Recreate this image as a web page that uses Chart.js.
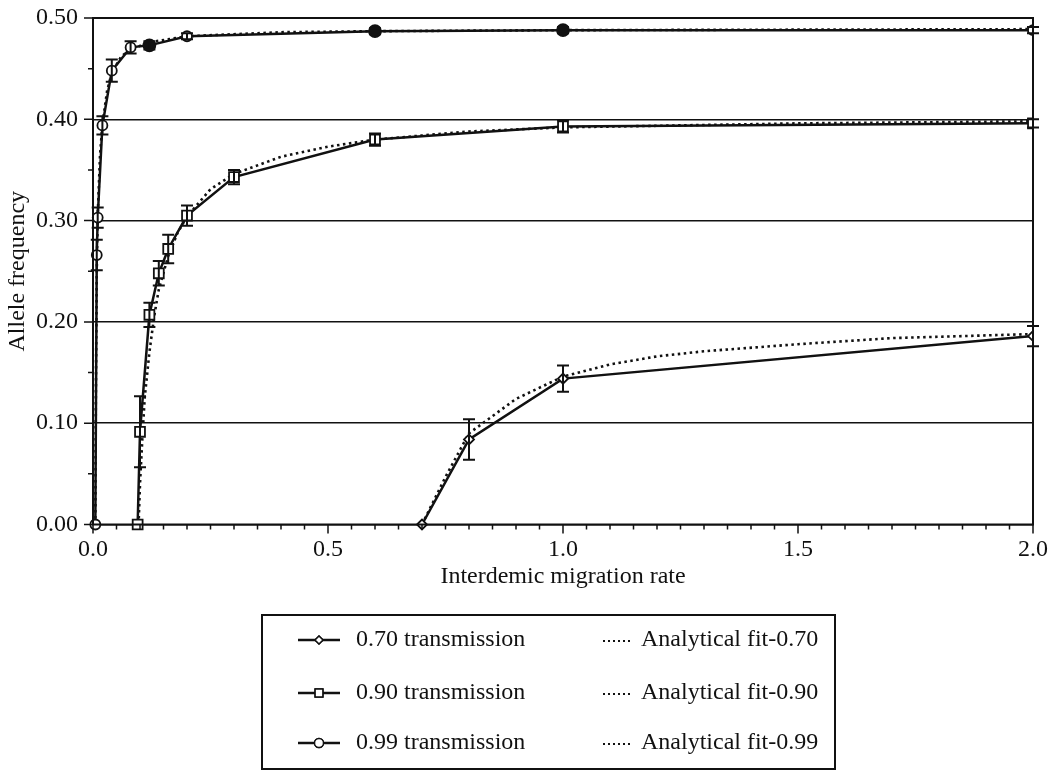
<!DOCTYPE html>
<html lang="en">
<head>
  <meta charset="UTF-8">
  <title>Allele frequency vs interdemic migration rate</title>
  <script src="https://cdn.jsdelivr.net/npm/chart.js"></script>
  <style>
    * {
      margin: 0;
      padding: 0;
      box-sizing: border-box;
    }

    body {
      background-color: #fff;
      width: 1049px;
      height: 771px;
      overflow: hidden;
    }

    .chart-container {
      position: relative;
      width: 1049px;
      height: 771px;
    }
  </style>
</head>
<body>
  <div class="chart-container">
    <canvas id="freqChart"></canvas>
  </div>

  <script>
    // simulated data (markers + error bars)
    const xRate70 = [0.7, 0.8, 1.0, 2.0];
    const freq70 = [0.0, 0.084, 0.144, 0.186];
    const err70 = [0, 0.02, 0.013, 0.01];

    const xRate90 = [0.095, 0.1, 0.12, 0.14, 0.16, 0.2, 0.3, 0.6, 1.0, 2.0];
    const freq90 = [0.0, 0.0915, 0.207, 0.248, 0.272, 0.305, 0.343, 0.380, 0.393, 0.396];
    const err90 = [0, 0.035, 0.012, 0.012, 0.014, 0.01, 0.007, 0.006, 0.006, 0.004];

    const xRate99 = [0.005, 0.008, 0.01, 0.02, 0.04, 0.08, 0.12, 0.2, 0.6, 1.0, 2.0];
    const freq99 = [0.0, 0.266, 0.303, 0.394, 0.448, 0.471, 0.473, 0.482, 0.487, 0.488, 0.488];
    const err99 = [0, 0.015, 0.01, 0.009, 0.011, 0.006, 0.004, 0.003, 0.003, 0.003, 0.003];
    const solidMarks99 = [0.12, 0.6, 1.0];

    // analytical fits
    const fitX70 = [0.7, 0.75, 0.8, 0.9, 1.0, 1.1, 1.2, 1.3, 1.5, 1.7, 2.0];
    const fitY70 = [0.0, 0.047, 0.09, 0.124, 0.146, 0.158, 0.166, 0.171, 0.178, 0.184, 0.188];

    const fitX90 = [0.097, 0.1, 0.105, 0.11, 0.12, 0.13, 0.14, 0.16, 0.18, 0.2, 0.25, 0.3, 0.4, 0.5, 0.6, 0.8, 1.0, 1.5, 2.0];
    const fitY90 = [0.0, 0.04, 0.085, 0.125, 0.17, 0.205, 0.232, 0.265, 0.288, 0.304, 0.331, 0.346, 0.363, 0.373, 0.380, 0.388, 0.392, 0.396, 0.398];

    const fitX99 = [0.005, 0.006, 0.008, 0.01, 0.015, 0.02, 0.03, 0.04, 0.06, 0.08, 0.12, 0.2, 0.4, 0.6, 1.0, 2.0];
    const fitY99 = [0.0, 0.12, 0.25, 0.305, 0.365, 0.395, 0.428, 0.446, 0.462, 0.469, 0.476, 0.482, 0.486, 0.487, 0.488, 0.489];

    const seriesLabels = ['0.70 transmission', '0.90 transmission', '0.99 transmission'];
    const fitLabels = ['Analytical fit-0.70', 'Analytical fit-0.90', 'Analytical fit-0.99'];

    const FONT = '"Liberation Serif", "DejaVu Serif", serif';
    const INK = '#111';

    const toPoints = (xs, ys) => xs.map((x, i) => ({ x: x, y: ys[i] }));

    const dataSet = (label, xs, ys, errs, style, radius) => ({
      label: label,
      data: toPoints(xs, ys),
      errors: errs,
      borderColor: INK,
      borderWidth: 2.5,
      pointStyle: style,
      pointRadius: radius,
      pointBorderWidth: 1.8,
      pointBorderColor: INK,
      pointBackgroundColor: '#fff',
      tension: 0,
      clip: { left: 10, top: 10, right: 0, bottom: 10 },
      order: 0
    });

    const fitSet = (label, xs, ys) => ({
      label: label,
      data: toPoints(xs, ys),
      borderColor: INK,
      borderWidth: 2.6,
      borderDash: [2.5, 3.5],
      borderCapStyle: 'butt',
      pointRadius: 0,
      tension: 0,
      clip: { left: 10, top: 10, right: 0, bottom: 10 },
      order: 1
    });

    const set99 = dataSet(seriesLabels[2], xRate99, freq99, err99, 'circle', 5);
    set99.pointBackgroundColor = xRate99.map(x => solidMarks99.includes(x) ? INK : '#fff');
    set99.pointRadius = xRate99.map(x => solidMarks99.includes(x) ? 6 : 5);

    // error bars, drawn over the markers
    const errorBars = {
      id: 'errorBars',
      afterDatasetsDraw(chart) {
        const { ctx, scales: { x, y } } = chart;
        ctx.save();
        ctx.strokeStyle = INK;
        ctx.lineWidth = 2;
        chart.data.datasets.forEach(ds => {
          if (!ds.errors) return;
          ds.data.forEach((p, i) => {
            const e = ds.errors[i];
            if (!e) return;
            const px = x.getPixelForValue(p.x);
            const top = y.getPixelForValue(p.y + e);
            const bot = y.getPixelForValue(p.y - e);
            ctx.beginPath();
            ctx.moveTo(px, top); ctx.lineTo(px, bot);
            ctx.moveTo(px - 6, top); ctx.lineTo(px + 6, top);
            ctx.moveTo(px - 6, bot); ctx.lineTo(px + 6, bot);
            ctx.stroke();
          });
        });
        ctx.restore();
      }
    };

    // frame, major and minor tick marks
    const frameTicks = {
      id: 'frameTicks',
      afterDraw(chart) {
        const { ctx, chartArea: a, scales: { x, y } } = chart;
        ctx.save();
        ctx.strokeStyle = INK;
        ctx.lineWidth = 1.5;
        ctx.beginPath();
        for (let i = 0; i <= 40; i++) {
          const px = x.getPixelForValue(i * 0.05);
          const len = i % 10 === 0 ? 9 : 5;
          ctx.moveTo(px, a.bottom); ctx.lineTo(px, a.bottom + len);
        }
        for (let i = 0; i <= 10; i++) {
          const py = y.getPixelForValue(i * 0.05);
          const len = i % 2 === 0 ? 9 : 5;
          ctx.moveTo(a.left - len, py); ctx.lineTo(a.left, py);
        }
        ctx.stroke();
        ctx.lineWidth = 2;
        ctx.strokeRect(a.left, a.top, a.right - a.left, a.bottom - a.top);
        ctx.restore();
      }
    };

    // boxed two column legend under the plot
    const boxLegend = {
      id: 'boxLegend',
      afterDraw(chart) {
        const ctx = chart.ctx;
        const rows = [640, 693, 743];
        const styles = ['rectRot', 'rect', 'circle'];
        const sizes = [4, 5.5, 4.5];
        ctx.save();
        ctx.strokeStyle = INK;
        ctx.fillStyle = INK;
        ctx.lineWidth = 2;
        ctx.strokeRect(262, 615, 573, 154);
        ctx.font = '24px ' + FONT;
        ctx.textBaseline = 'middle';
        rows.forEach((ry, i) => {
          ctx.setLineDash([]);
          ctx.lineWidth = 2.5;
          ctx.beginPath();
          ctx.moveTo(298, ry); ctx.lineTo(340, ry);
          ctx.stroke();
          ctx.lineWidth = 1.5;
          ctx.fillStyle = '#fff';
          Chart.helpers.drawPoint(ctx, { pointStyle: styles[i], radius: sizes[i], borderWidth: 1.5, rotation: 0 }, 319, ry);
          ctx.fill();
          ctx.stroke();
          ctx.fillStyle = INK;
          ctx.fillText(seriesLabels[i], 356, ry);

          ctx.lineWidth = 2;
          ctx.setLineDash([2, 3]);
          ctx.beginPath();
          ctx.moveTo(603, ry + 1); ctx.lineTo(630, ry + 1);
          ctx.stroke();
          ctx.setLineDash([]);
          ctx.fillText(fitLabels[i], 641, ry);
        });
        ctx.restore();
      }
    };

    const isMultiple = (v, step) => Math.abs(v / step - Math.round(v / step)) < 1e-6;

    new Chart(document.getElementById('freqChart').getContext('2d'), {
      type: 'line',
      data: {
        datasets: [
          dataSet(seriesLabels[0], xRate70, freq70, err70, 'rectRot', 5),
          dataSet(seriesLabels[1], xRate90, freq90, err90, 'rect', 7),
          set99,
          fitSet(fitLabels[0], fitX70, fitY70),
          fitSet(fitLabels[1], fitX90, fitY90),
          fitSet(fitLabels[2], fitX99, fitY99)
        ]
      },
      options: {
        responsive: true,
        maintainAspectRatio: false,
        animation: false,
        layout: {
          padding: { left: 0, top: 18, right: 16, bottom: 171.5 }
        },
        plugins: {
          legend: { display: false },
          tooltip: { enabled: false }
        },
        scales: {
          x: {
            type: 'linear',
            min: 0,
            max: 2,
            afterFit: (scale) => {
              scale.height = 75;
              scale.paddingLeft = 0;
              scale.paddingRight = 0;
            },
            border: { display: false },
            grid: {
              drawOnChartArea: false,
              tickLength: 9,
              tickColor: 'rgba(0,0,0,0)'
            },
            ticks: {
              stepSize: 0.5,
              padding: 2,
              color: INK,
              maxRotation: 0,
              font: { family: FONT, size: 24 },
              callback: (v) => isMultiple(v, 0.5) ? Number(v).toFixed(1) : ''
            },
            title: {
              display: true,
              text: 'Interdemic migration rate',
              color: INK,
              font: { family: FONT, size: 24 },
              padding: { top: 0, bottom: 8 }
            }
          },
          y: {
            type: 'linear',
            min: 0,
            max: 0.5,
            afterFit: (scale) => {
              scale.width = 93;
              scale.paddingTop = 0;
              scale.paddingBottom = 0;
            },
            border: { display: false },
            grid: {
              color: INK,
              lineWidth: 1.5,
              tickLength: 9,
              tickColor: 'rgba(0,0,0,0)'
            },
            ticks: {
              stepSize: 0.1,
              padding: 6,
              color: INK,
              font: { family: FONT, size: 24 },
              callback: (v) => isMultiple(v, 0.1) ? Number(v).toFixed(2) : ''
            },
            title: {
              display: true,
              text: 'Allele frequency',
              color: INK,
              font: { family: FONT, size: 24 },
              padding: { top: 3, bottom: 0 }
            }
          }
        }
      },
      plugins: [errorBars, frameTicks, boxLegend]
    });
  </script>
</body>
</html>
